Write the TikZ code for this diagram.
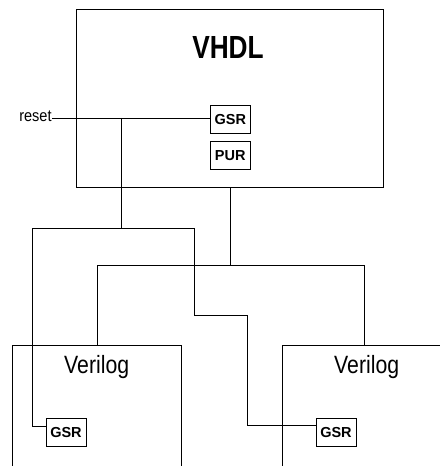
\documentclass[tikz,border=0pt]{standalone}
\usepackage{fontspec}
\setmainfont{Liberation Sans}
\begin{document}
\begin{tikzpicture}[x=1bp,y=-1bp,line width=0.9bp,
  chip/.style={draw,rectangle,inner sep=0pt,minimum width=40bp,minimum height=28bp,font=\fontsize{14.5bp}{16bp}\selectfont\bfseries},
  wire/.style={draw}]
\useasboundingbox (0,0) rectangle (440,466);
% VHDL block
\node[draw,rectangle,inner sep=0pt,minimum width=307bp,minimum height=177.7bp] (vhdl) at (229.8,98.15) {};
\node (vhdltxt) at (228,47) {\scalebox{0.82}[1]{\fontsize{32bp}{36bp}\selectfont\bfseries VHDL}};
\node[chip] (gsr0) at (230.3,119.3) {GSR};
\node[chip] (pur) at (230.3,155.5) {PUR};
\node[anchor=base east,inner sep=0pt] (reset) at (52,121.5) {\scalebox{0.88}[1]{\fontsize{16.5bp}{18bp}\selectfont reset}};
% Verilog blocks (open bottom)
\draw (12.7,466) -- (12.7,345.3) -- (181.3,345.3) -- (181.3,466);
\draw (282.3,466) -- (282.3,345.3) -- (440,345.3);
\node (ver1) at (96.7,367.5) {\scalebox{0.85}[1]{\fontsize{25bp}{28bp}\selectfont Verilog}};
\node (ver2) at (366.7,367.5) {\scalebox{0.85}[1]{\fontsize{25bp}{28bp}\selectfont Verilog}};
\node[chip] (gsr1) at (66,432.2) {GSR};
\node[chip] (gsr2) at (336,432.2) {GSR};
% coordinates
\coordinate (j1) at (121.3,118);
\coordinate (j2) at (121.3,228.3);
\coordinate (hl) at (32.3,228.3);
\coordinate (hr) at (194.3,228.3);
\coordinate (b1) at (230.3,265);
\coordinate (bl) at (97.3,265);
\coordinate (br) at (364.3,265);
% wires
\draw (reset.east |- 0,118) -- (gsr0.west |- 0,118);
\draw (j1) -- (j2);
\draw (hl) -- (hr);
\draw (hl) -- (32.3,426.3) -- (gsr1.west |- 0,426.3);
\draw (hr) -- (194.3,315.3) -- (247,315.3) -- (247,425.3) -- (gsr2.west |- 0,425.3);
\draw (vhdl.south -| b1) -- (b1);
\draw (bl) -- (br);
\draw (bl) -- (97.3,345.3);
\draw (br) -- (364.3,345.3);
\end{tikzpicture}
\end{document}
